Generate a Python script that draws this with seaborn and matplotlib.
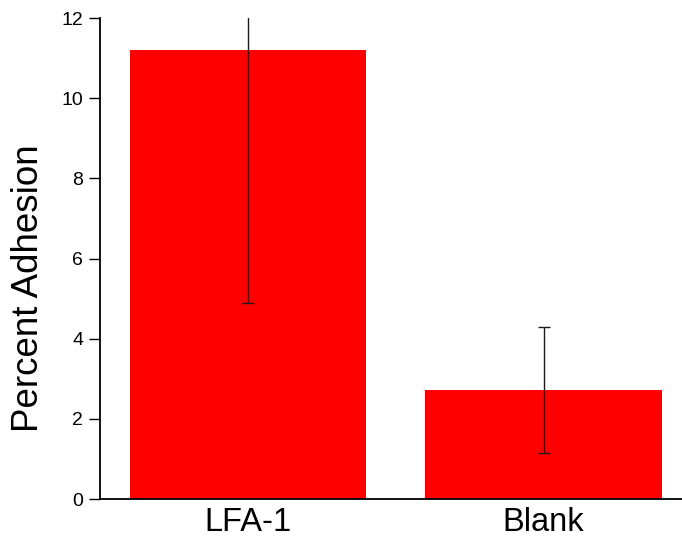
import matplotlib
matplotlib.use("Agg")
import matplotlib.pyplot as plt
import seaborn as sns
import pandas as pd

categories = ["LFA-1", "Blank"]
values = [11.2, 2.72]
errors = [6.3, 1.56]
yticks = [0, 2, 4, 6, 8, 10, 12]

sns.set_style("ticks")
plt.rcParams['font.family'] = ['Liberation Sans', 'DejaVu Sans']

df = pd.DataFrame({"cat": categories, "val": values, "err": errors})

fig = plt.figure(figsize=(6.82, 5.39), dpi=100)
ax = fig.add_axes([0.1466, 0.0742, 0.8534, 0.8924])
sns.barplot(data=df, x="cat", y="val", color="#FF0000", saturation=1,
            width=0.8, linewidth=0, errorbar=None, ax=ax)
ax.errorbar(range(len(categories)), df["val"], yerr=df["err"], fmt="none",
            ecolor="#1a1a1a", elinewidth=1, capsize=4.5, capthick=1)

ax.set_ylim(0, 12)
ax.set_xlim(-0.5, 1.468)
ax.set_yticks(yticks)
ax.set_yticklabels([str(t) for t in yticks], fontsize=14, color="black")
ax.tick_params(axis="y", length=8, width=1, pad=4, colors="black")
ax.tick_params(axis="x", length=0, labelsize=23.5, pad=6, labelcolor="black")
ax.set_xlabel("")
ax.set_ylabel("Percent Adhesion", fontsize=26.5, labelpad=11, color="black")
ax.yaxis.label.set_y(0.4387)
for s in ["top", "right"]:
    ax.spines[s].set_visible(False)
for s in ["left", "bottom"]:
    ax.spines[s].set_linewidth(1.3)
    ax.spines[s].set_color("black")

fig.savefig("out.png", dpi=100)
